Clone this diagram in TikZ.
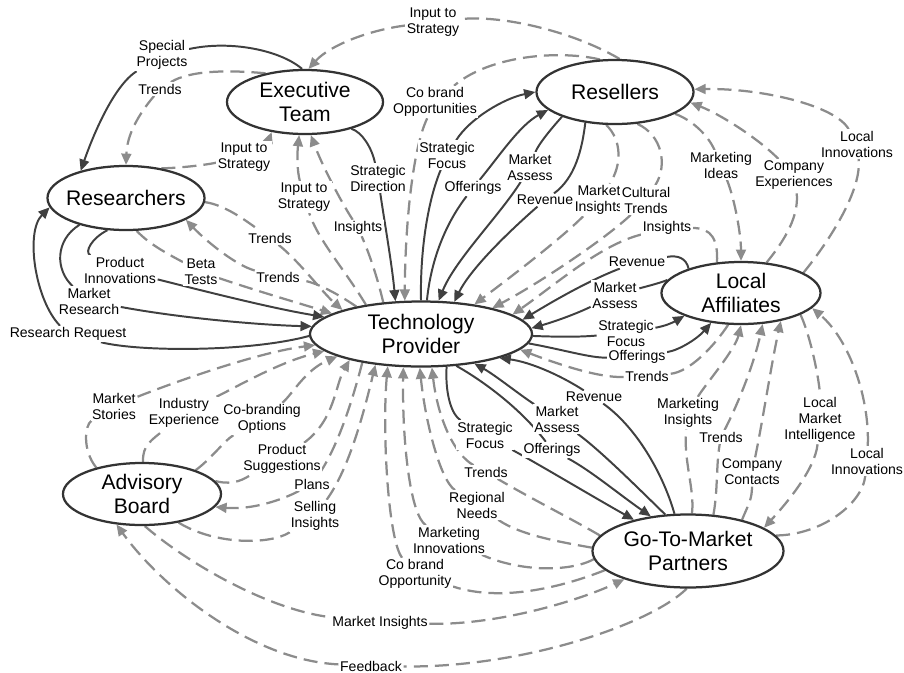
\documentclass[tikz,border=0pt]{standalone}
\usepackage{fontspec}
\setmainfont{Liberation Sans}
\usetikzlibrary{shapes.geometric,arrows.meta,backgrounds}

\begin{document}
\begin{tikzpicture}[x=0.025cm,y=-0.025cm,>={Triangle[length=8pt,width=7pt]},
  actor/.style={ellipse,draw=black!80,line width=1.6pt,fill=white,inner xsep=-4pt,inner ysep=0pt,align=center,font=\fontsize{15}{17.5}\selectfont},
  lbl/.style={align=center,inner sep=1pt,fill=white,font=\fontsize{10}{11.4}\selectfont},
  flow/.style={->,draw=black!75,line width=1.4pt},
  feed/.style={->,draw=black!45,line width=1.6pt,dash pattern=on 10pt off 5pt}]
\useasboundingbox (0,0) rectangle (904,673);

\node[actor,minimum width=3.9cm,minimum height=1.6cm] (exe) at (305,102) {Executive\\Team};
\node[actor,minimum width=3.925cm,minimum height=1.6cm] (res) at (615,92) {Resellers};
\node[actor,minimum width=3.925cm,minimum height=1.6cm] (rsr) at (126,198) {Researchers};
\node[actor,minimum width=5.55cm,minimum height=1.625cm] (tp) at (421,334) {Technology\\Provider};
\node[actor,minimum width=3.975cm,minimum height=1.55cm] (la) at (741,293) {Local\\Affiliates};
\node[actor,minimum width=3.95cm,minimum height=1.55cm] (ab) at (142,494) {Advisory\\Board};
\node[actor,minimum width=4.775cm,minimum height=1.825cm] (gtm) at (688,551) {Go-To-Market\\Partners};

\node[lbl] (inpTop) at (433,22) {Input to\\Strategy};
\node[lbl] (special) at (162,55) {Special\\Projects};
\node[lbl] (trExe) at (160,89) {Trends};
\node[lbl] (inpRsr) at (244,157) {Input to\\Strategy};
\node[lbl] (inpTp) at (304,197) {Input to\\Strategy};
\node[lbl] (stratDir) at (378,178) {Strategic\\Direction};
\node[lbl] (insExe) at (358,228) {Insights};
\node[lbl] (cobRes) at (435,102) {Co brand\\Opportunities};
\node[lbl] (sfRes) at (447,155) {Strategic\\Focus};
\node[lbl] (offRes) at (473,188) {Offerings};
\node[lbl] (maRes) at (530,167) {Market\\Assess};
\node[lbl] (revRes) at (545,200) {Revenue};
\node[lbl] (miRes) at (599,200) {Market\\Insights};
\node[lbl] (cultRes) at (646,200) {Cultural\\Trends};
\node[lbl] (insLa) at (667,228) {Insights};
\node[lbl] (mktIdeas) at (721,165) {Marketing\\Ideas};
\node[lbl] (compExp) at (794,175) {Company\\Experiences};
\node[lbl] (locInnRes) at (857,144) {Local\\Innovations};
\node[lbl] (trRsrA) at (270,238) {Trends};
\node[lbl] (trRsrB) at (278,277) {Trends};
\node[lbl] (beta) at (201,272) {Beta\\Tests};
\node[lbl] (prodInn) at (120,270) {Product\\Innovations};
\node[lbl] (mktRes) at (89,301) {Market\\Research};
\node[lbl] (resReq) at (68,334) {Research Request};
\node[lbl] (revLa) at (637,262) {Revenue};
\node[lbl] (maLa) at (615,295) {Market\\Assess};
\node[lbl] (sfLa) at (626,333) {Strategic\\Focus};
\node[lbl] (offLa) at (637,357) {Offerings};
\node[lbl] (trLa) at (647,376) {Trends};
\node[lbl] (revGtm) at (594,397) {Revenue};
\node[lbl] (maGtm) at (557,419) {Market\\Assess};
\node[lbl] (sfGtm) at (485,435) {Strategic\\Focus};
\node[lbl] (offGtm) at (552,450) {Offerings};
\node[lbl] (trGtm) at (486,472) {Trends};
\node[lbl] (regNeeds) at (477,505) {Regional\\Needs};
\node[lbl] (mktInnov) at (449,540) {Marketing\\Innovations};
\node[lbl] (cobGtm) at (415,574) {Co brand\\Opportunity};
\node[lbl] (mktIns) at (688,413) {Marketing\\Insights};
\node[lbl] (trGtmLa) at (721,437) {Trends};
\node[lbl] (compCont) at (752,472) {Company\\Contacts};
\node[lbl] (locMkt) at (820,420) {Local\\Market\\Intelligence};
\node[lbl] (locInnLa) at (867,461) {Local\\Innovations};
\node[lbl] (mktStories) at (114,406) {Market\\Stories};
\node[lbl] (indExp) at (184,413) {Industry\\Experience};
\node[lbl] (cobOpt) at (262,419) {Co-branding\\Options};
\node[lbl] (prodSugg) at (282,459) {Product\\Suggestions};
\node[lbl] (plans) at (312,484) {Plans};
\node[lbl] (selling) at (315,516) {Selling\\Insights};
\node[lbl] (mktInsAb) at (380,623) {Market Insights};
\node[lbl] (feedback) at (371,666) {Feedback};

\begin{scope}[on background layer]
\draw[flow] (exe.95) .. controls (280,50) and (230,40) .. (special) .. controls (115,85) and (95,130) .. (rsr.149);
\draw[flow] (exe.-30) .. controls (362,132) and (372,148) .. (stratDir) .. controls (385,225) and (392,265) .. (tp.128);
\draw[feed] (res.82) .. controls (570,30) and (500,15) .. (inpTop) .. controls (370,30) and (330,45) .. (exe.84);
\draw[feed] (res.115) .. controls (560,50) and (490,55) .. (cobRes) .. controls (412,150) and (405,230) .. (tp.116);
\draw[feed] (exe.144) .. controls (230,70) and (190,70) .. (trExe) .. controls (138,115) and (127,135) .. (rsr.90);
\draw[feed] (rsr.40) .. controls (180,168) and (205,165) .. (inpRsr) .. controls (262,146) and (268,142) .. (exe.-138);
\draw[feed] (tp.152) .. controls (345,270) and (318,240) .. (inpTp) .. controls (297,170) and (297,155) .. (exe.-100);
\draw[feed] (tp.140) .. controls (378,280) and (370,255) .. (insExe) .. controls (340,200) and (322,165) .. (exe.-80);
\draw[flow] (tp.90) .. controls (420,250) and (428,200) .. (sfRes) .. controls (470,118) and (505,98) .. (res.180);
\draw[flow] (tp.80) .. controls (432,250) and (452,215) .. (offRes) .. controls (500,155) and (520,125) .. (res.195);
\draw[flow] (res.-155) .. controls (550,130) and (538,145) .. (maRes) .. controls (500,215) and (455,260) .. (tp.62);
\draw[flow] (res.-134) .. controls (582,150) and (575,178) .. (revRes) .. controls (505,235) and (470,270) .. (tp.44);
\draw[feed] (res.-105) .. controls (622,140) and (622,165) .. (miRes) .. controls (560,240) and (500,285) .. (tp.29);
\draw[feed] (res.-55) .. controls (662,135) and (668,165) .. (cultRes) .. controls (610,235) and (545,280) .. (tp.20);
\draw[feed] (la.128) .. controls (718,240) and (712,228) .. (insLa) .. controls (600,245) and (555,285) .. (tp.12);
\draw[flow] (la.155) .. controls (686,258) and (678,255) .. (revLa) .. controls (590,280) and (555,300) .. (tp.8);
\draw[flow] (la.170) .. controls (660,283) and (648,286) .. (maLa) .. controls (580,312) and (560,320) .. (tp.3);
\draw[flow] (tp.-1) .. controls (560,337) and (580,337) .. (sfLa) .. controls (665,326) and (672,323) .. (la.-158);
\draw[flow] (tp.-5) .. controls (565,350) and (590,358) .. (offLa) .. controls (680,350) and (698,338) .. (la.-135);
\draw[feed] (la.-112) .. controls (715,345) and (690,372) .. (trLa) .. controls (600,378) and (560,365) .. (tp.-9);
\draw[flow] (gtm.110) .. controls (665,480) and (640,430) .. (revGtm) .. controls (560,375) and (530,362) .. (tp.-17);
\draw[flow] (gtm.122) .. controls (640,490) and (600,450) .. (maGtm) .. controls (520,395) and (495,375) .. (tp.-29);
\draw[flow] (tp.-42) .. controls (485,382) and (522,410) .. (offGtm) .. controls (590,470) and (620,495) .. (gtm.137);
\draw[flow] (tp.-52) .. controls (445,395) and (452,415) .. (sfGtm) .. controls (540,465) and (590,495) .. (gtm.150);
\draw[feed] (gtm.170) .. controls (570,518) and (530,498) .. (trGtm) .. controls (455,455) and (438,420) .. (tp.-72);
\draw[feed] (gtm.178) .. controls (560,542) and (520,535) .. (regNeeds) .. controls (440,480) and (425,420) .. (tp.-92);
\draw[feed] (gtm.185) .. controls (570,572) and (520,572) .. (mktInnov) .. controls (410,515) and (402,440) .. (tp.-118);
\draw[feed] (gtm.193) .. controls (560,588) and (500,602) .. (cobGtm) .. controls (388,540) and (382,430) .. (tp.-136);
\draw[feed] (ab.-38) .. controls (215,545) and (270,545) .. (selling) .. controls (348,470) and (362,420) .. (tp.214);
\draw[feed] (tp.206) .. controls (350,410) and (335,452) .. (plans) .. controls (282,500) and (252,510) .. (ab.-10);
\draw[feed] (ab.10) .. controls (235,486) and (245,478) .. (prodSugg) .. controls (335,420) and (335,385) .. (tp.200);
\draw[feed] (ab.24) .. controls (210,460) and (225,440) .. (cobOpt) .. controls (292,395) and (305,370) .. (tp.195);
\draw[feed] (ab.88) .. controls (142,445) and (152,440) .. (indExp) .. controls (240,385) and (280,362) .. (tp.190);
\draw[feed] (ab.150) .. controls (82,450) and (85,425) .. (mktStories) .. controls (180,380) and (260,352) .. (tp.186);
\draw[feed] (ab.-85) .. controls (190,565) and (270,610) .. (mktInsAb) .. controls (500,625) and (580,600) .. (gtm.-156);
\draw[feed] (gtm.-92) .. controls (650,625) and (520,668) .. (feedback) .. controls (250,660) and (160,585) .. (ab.-130);
\draw[feed] (gtm.84) .. controls (695,490) and (683,460) .. (mktIns) .. controls (705,385) and (735,350) .. (la.-90);
\draw[feed] (gtm.55) .. controls (718,490) and (716,465) .. (trGtmLa) .. controls (740,400) and (755,360) .. (la.-55);
\draw[feed] (gtm.30) .. controls (748,505) and (752,500) .. (compCont) .. controls (762,425) and (772,360) .. (la.-35);
\draw[feed] (la.-20) .. controls (812,340) and (820,385) .. (locMkt) .. controls (815,470) and (785,505) .. (gtm.17);
\draw[feed] (gtm.10) .. controls (820,535) and (862,505) .. (locInnLa) .. controls (870,400) and (850,340) .. (la.-12);
\draw[feed] (res.-20) .. controls (692,120) and (708,135) .. (mktIdeas) .. controls (735,200) and (741,235) .. (la.90);
\draw[feed] (la.50) .. controls (785,240) and (800,215) .. (compExp) .. controls (760,140) and (722,115) .. (res.-8);
\draw[feed] (la.18) .. controls (830,240) and (862,190) .. (locInnRes) .. controls (835,105) and (760,88) .. (res.2);
\draw[feed] (rsr.-3) .. controls (225,205) and (245,220) .. (trRsrA) .. controls (300,262) and (322,292) .. (tp.163);
\draw[feed] (tp.157) .. controls (335,292) and (315,282) .. (trRsrB) .. controls (235,265) and (205,240) .. (rsr.-20);
\draw[feed] (rsr.-72) .. controls (150,245) and (170,255) .. (beta) .. controls (260,292) and (305,305) .. (tp.167);
\draw[flow] (rsr.-120) .. controls (92,238) and (84,252) .. (prodInn) .. controls (200,290) and (270,308) .. (tp.170);
\draw[flow] (rsr.-150) .. controls (55,240) and (55,270) .. (mktRes) .. controls (180,318) and (260,325) .. (tp.176);
\draw[flow] (tp.181) .. controls (250,352) and (140,352) .. (resReq) .. controls (35,300) and (25,232) .. (rsr.187);
\end{scope}
\end{tikzpicture}
\end{document}
